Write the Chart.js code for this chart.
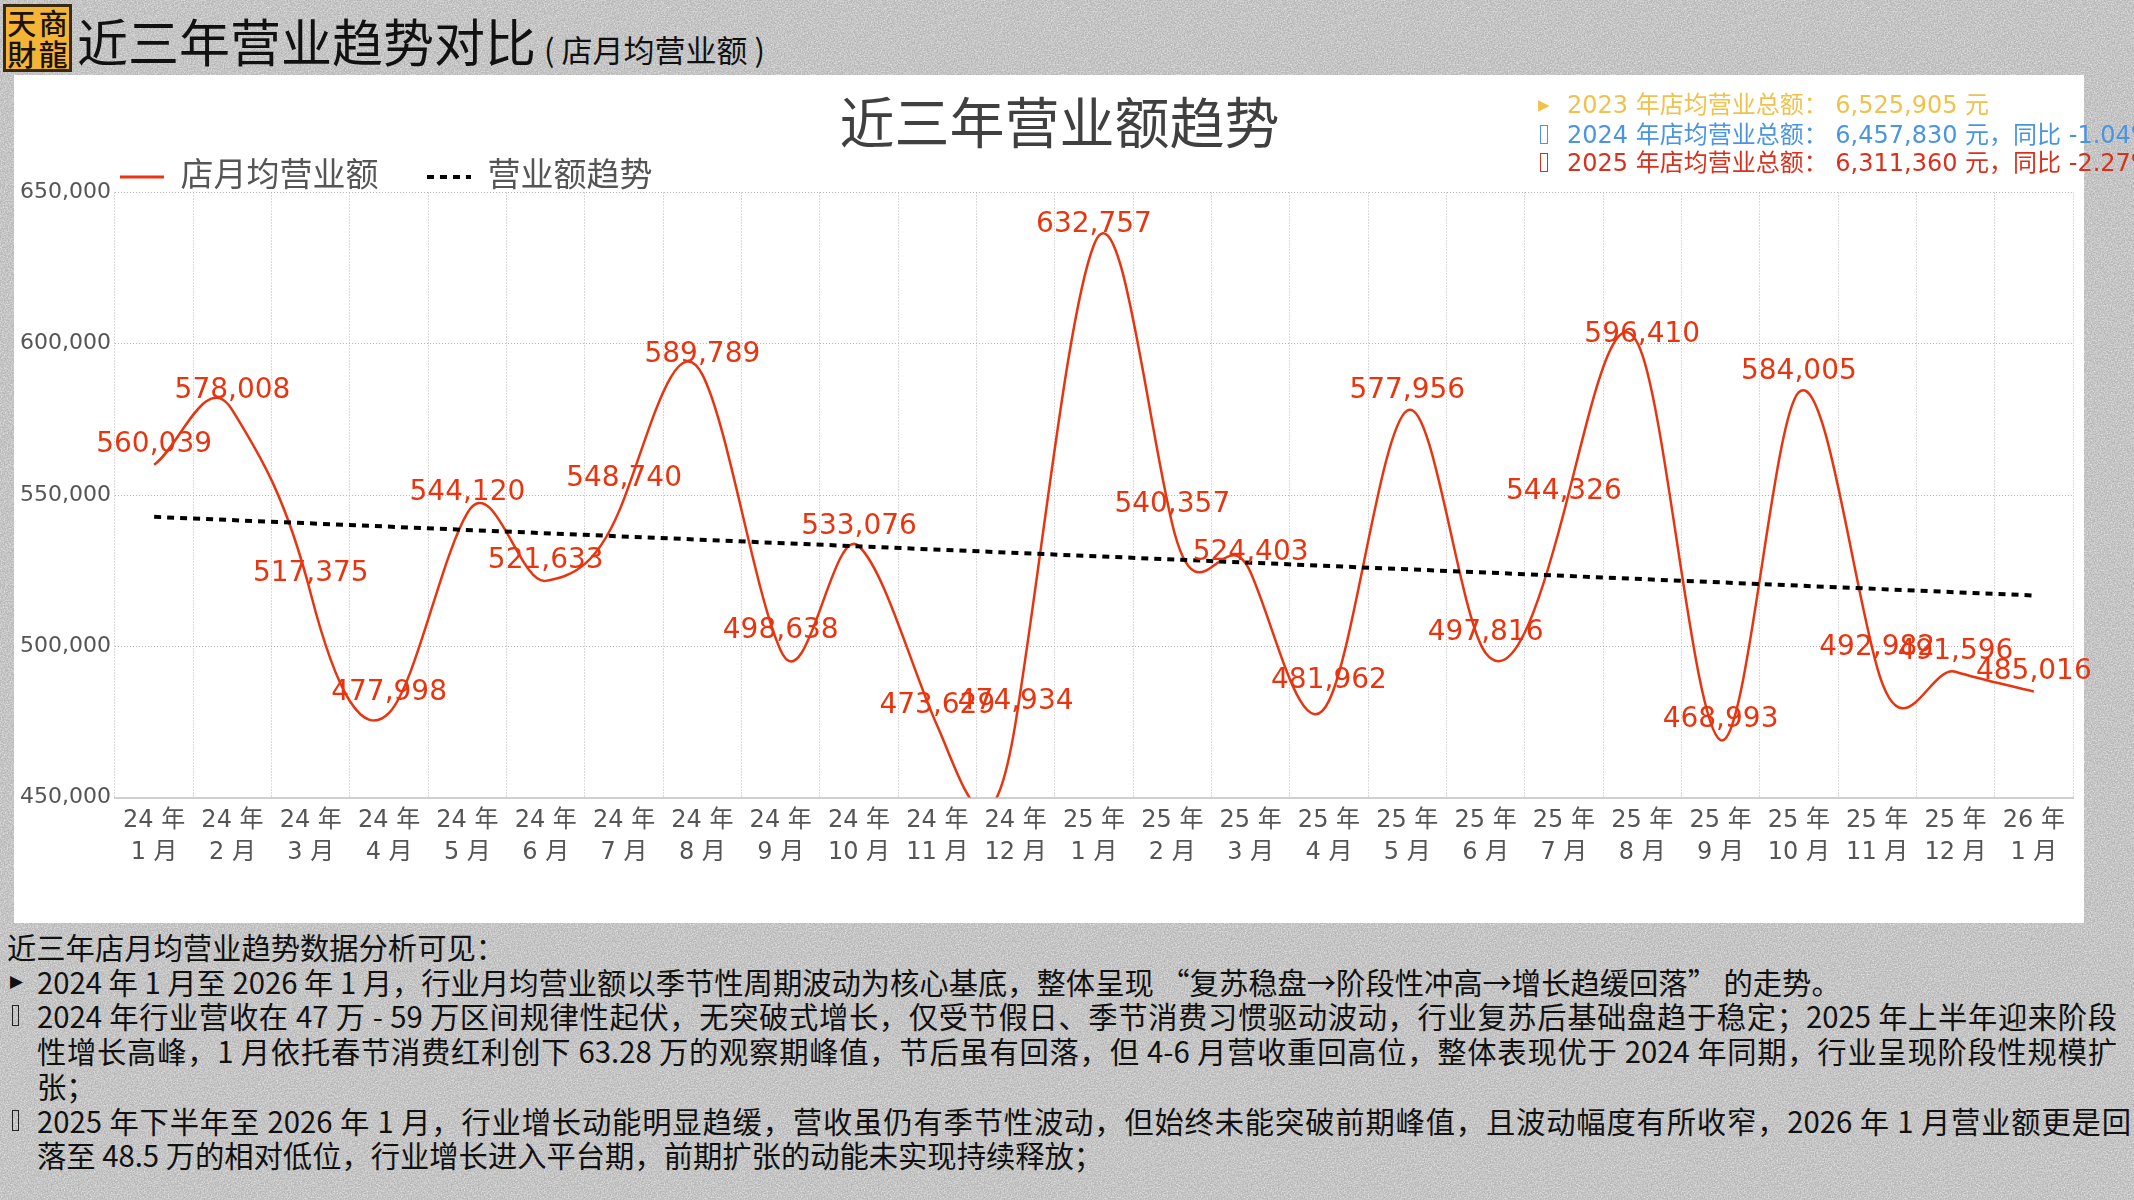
<!DOCTYPE html>
<html lang="zh">
<head>
<meta charset="utf-8">
<title>近三年营业趋势对比</title>
<script src="https://cdn.jsdelivr.net/npm/chart.js@4.4.1/dist/chart.umd.min.js"></script>
<style>
  html, body { margin: 0; padding: 0; }
  body {
    width: 2134px; height: 1200px; overflow: hidden; position: relative;
    background-color: #b6b6b6;
    background-image: url("data:image/svg+xml;utf8,<svg xmlns='http://www.w3.org/2000/svg' width='400' height='400'><filter id='n'><feTurbulence type='fractalNoise' baseFrequency='0.7' numOctaves='3' stitchTiles='stitch'/><feColorMatrix type='matrix' values='0 0 0 0 1  0 0 0 0 1  0 0 0 0 1  1.1 0 0 0 -0.35'/></filter><rect width='400' height='400' filter='url(%23n)'/></svg>");
    font-family: "Noto Sans CJK SC", sans-serif;
  }
  #logo {
    position: absolute; left: 3px; top: 4px; width: 69px; height: 68px; box-sizing: border-box;
    background: #f4b536; border: 3px solid #3a2912;
    display: grid; grid-template-columns: 1fr 1fr; grid-template-rows: 1fr 1fr;
    font-family: "Noto Sans CJK TC", sans-serif; font-size: 29px; line-height: 31px; color: #1b1208;
    text-align: center; font-weight: 500;
  }
  #title {
    position: absolute; left: 77px; top: 11px; white-space: nowrap;
    font-family: "Noto Sans CJK SC", sans-serif; color: #111;
  }
  #title .big { font-size: 51px; line-height: 58px; }
  #title .small { font-size: 31px; margin-left: 8px; }
  #panel {
    position: absolute; left: 14px; top: 75px; width: 2070px; height: 848px; background: #fff;
  }
  #chartBox { position: absolute; left: 0; top: 75px; width: 2134px; height: 848px; }
  .info {
    position: absolute; left: 1538px; white-space: nowrap; font-size: 24px; line-height: 30px;
    font-family: "DejaVu Sans", "Noto Sans CJK SC", sans-serif; z-index: 5;
  }
  .info .mk { display: inline-block; width: 29px; font-size: 15px; vertical-align: 3px; }
  .info .box { display: inline-block; width: 6px; height: 17px; border: 1.5px solid currentColor;
               margin-left: 2px; margin-right: 19px; vertical-align: -1px; }
  #notes {
    position: absolute; left: 7px; top: 929px; width: 2110px;
    font-size: 29.3px; line-height: 34.7px; color: #111;
  }
  #notes .ln { white-space: nowrap; }
  #notes .in { padding-left: 30px; position: relative; }
  #notes .j { text-align: justify; text-align-last: justify; white-space: normal; }
  #notes .b { position: absolute; left: 3px; top: 0; font-size: 17px; font-family: "DejaVu Sans", sans-serif; }
  #notes .bx { position: absolute; left: 5px; top: 7px; width: 5px; height: 19px; border: 1.5px solid #222; }
</style>
</head>
<body>
<div id="logo"><span>天</span><span>商</span><span>財</span><span>龍</span></div>
<div id="title"><span class="big">近三年营业趋势对比</span><span class="small">( 店月均营业额 )</span></div>

<div id="panel"></div>
<div id="chartBox"><canvas id="chart"></canvas></div>

<div class="info" style="top:90px;color:#f0c24b;"><span class="mk">▶</span>2023 年店均营业总额： 6,525,905 元</div>
<div class="info" style="top:120px;color:#4a95e2;"><span class="box"></span>2024 年店均营业总额： 6,457,830 元，同比 -1.04%</div>
<div class="info" style="top:148px;color:#d8301c;"><span class="box"></span>2025 年店均营业总额： 6,311,360 元，同比 -2.27%</div>

<div id="notes">
  <div class="ln">近三年店月均营业趋势数据分析可见：</div>
  <div class="ln in"><span class="b">▶</span>2024 年 1 月至 2026 年 1 月，行业月均营业额以季节性周期波动为核心基底，整体呈现 “复苏稳盘→阶段性冲高→增长趋缓回落” 的走势。</div>
  <div class="ln in j"><span class="bx"></span>2024 年行业营收在 47 万 - 59 万区间规律性起伏，无突破式增长，仅受节假日、季节消费习惯驱动波动，行业复苏后基础盘趋于稳定；2025 年上半年迎来阶段</div>
  <div class="ln in j">性增长高峰，1 月依托春节消费红利创下 63.28 万的观察期峰值，节后虽有回落，但 4-6 月营收重回高位，整体表现优于 2024 年同期，行业呈现阶段性规模扩</div>
  <div class="ln in">张；</div>
  <div class="ln in j" style="margin-right:-14px;"><span class="bx"></span>2025 年下半年至 2026 年 1 月，行业增长动能明显趋缓，营收虽仍有季节性波动，但始终未能突破前期峰值，且波动幅度有所收窄，2026 年 1 月营业额更是回</div>
  <div class="ln in">落至 48.5 万的相对低位，行业增长进入平台期，前期扩张的动能未实现持续释放；</div>
</div>

<script>
// ---------- data ----------
const yearLabels  = ['24 年','24 年','24 年','24 年','24 年','24 年','24 年','24 年','24 年','24 年','24 年','24 年',
                     '25 年','25 年','25 年','25 年','25 年','25 年','25 年','25 年','25 年','25 年','25 年','25 年','26 年'];
const monthLabels = ['1 月','2 月','3 月','4 月','5 月','6 月','7 月','8 月','9 月','10 月','11 月','12 月',
                     '1 月','2 月','3 月','4 月','5 月','6 月','7 月','8 月','9 月','10 月','11 月','12 月','1 月'];
const revenue = [560039, 578008, 517375, 477998, 544120, 521633, 548740, 589789, 498638, 533076, 473629, 474934,
                 632757, 540357, 524403, 481962, 577956, 497816, 544326, 596410, 468993, 584005, 492982, 491596, 485016];
const trendEnds = [542800, 516800];          // trend line value at first and last month
const yTicks = [450000, 500000, 550000, 600000, 650000];
const seriesNames = ['店月均营业额', '营业额趋势'];

const labels = yearLabels.map((y, i) => [y, monthLabels[i]]);
const trend = revenue.map((_, i) => i === 0 ? trendEnds[0] : (i === revenue.length - 1 ? trendEnds[1] : null));

const fmt = v => String(v).replace(/\B(?=(\d{3})+(?!\d))/g, ',');
const RED = '#e8340f';

// smooth curve (cubic Hermite through the points, strong tangents) for the revenue line
const splinePlugin = {
  id: 'splineCurve',
  beforeDatasetDraw(chart, args) {
    if (args.index !== 0) return;
    const line = args.meta.dataset;
    const pts = args.meta.data;
    line.updateControlPoints(chart.chartArea, 'x');
    const n = pts.length, k = 1.0;
    for (let i = 0; i < n; i++) {
      const p = pts[i];
      const prev = pts[Math.max(i - 1, 0)], next = pts[Math.min(i + 1, n - 1)];
      const h = (i < n - 1 ? pts[i + 1].x - p.x : p.x - pts[i - 1].x);
      const s = k * (next.y - prev.y);
      p.cp1x = p.x - h / 3; p.cp1y = p.y - s / 3;
      p.cp2x = p.x + h / 3; p.cp2y = p.y + s / 3;
    }
    line._path = undefined;
  }
};

// the chart title sits a little right of the canvas centre
const titleShiftPlugin = {
  id: 'titleShift',
  afterLayout(chart) {
    const t = chart.titleBlock;
    if (t) { t.left += 15; t.right += 15; }
  }
};

const valueLabelPlugin = {
  id: 'valueLabels',
  afterDatasetsDraw(chart) {
    const meta = chart.getDatasetMeta(0);
    const ctx = chart.ctx;
    ctx.save();
    ctx.font = "28px 'DejaVu Sans', 'Noto Sans CJK SC', sans-serif";
    ctx.fillStyle = RED;
    ctx.textAlign = 'center';
    ctx.textBaseline = 'middle';
    meta.data.forEach((pt, i) => {
      ctx.fillText(fmt(revenue[i]), pt.x, pt.y - 20);
    });
    ctx.restore();
  }
};

Chart.defaults.font.family = "'DejaVu Sans', 'Noto Sans CJK SC', sans-serif";
Chart.defaults.color = '#555';

new Chart(document.getElementById('chart'), {
  type: 'line',
  data: {
    labels: labels,
    datasets: [
      {
        label: seriesNames[0], data: revenue, borderColor: RED, backgroundColor: RED,
        borderWidth: 2.5, pointRadius: 0, pointHoverRadius: 0, tension: 0.4, order: 1
      },
      {
        label: seriesNames[1], data: trend, borderColor: '#000', backgroundColor: '#000',
        borderWidth: 4, borderDash: [7, 6], pointRadius: 0, pointHoverRadius: 0,
        tension: 0, spanGaps: true, order: 0
      }
    ]
  },
  options: {
    responsive: true, maintainAspectRatio: false, animation: false, devicePixelRatio: 1,
    events: [],
    layout: { padding: { left: 16, right: 61, top: 0, bottom: 47 } },
    plugins: {
      tooltip: { enabled: false },
      title: {
        display: true, text: '近三年营业额趋势', color: '#404040',
        font: { size: 55, weight: 'normal', family: "'Noto Sans CJK SC', sans-serif", lineHeight: 1.1 },
        padding: { top: 17, bottom: 3 }
      },
      legend: {
        display: true, position: 'top', align: 'start', fullSize: false, maxHeight: 37,
        labels: {
          usePointStyle: true, pointStyleWidth: 44, padding: 5, color: '#555',
          font: { size: 33 },
          sort: (a, b) => a.datasetIndex - b.datasetIndex,
          generateLabels(chart) {
            const items = Chart.defaults.plugins.legend.labels.generateLabels(chart);
            items.forEach(it => {
              const ds = chart.data.datasets[it.datasetIndex];
              it.pointStyle = 'line';
              it.strokeStyle = ds.borderColor;
              it.lineWidth = it.datasetIndex === 1 ? 4 : 3;
              it.lineDash = ds.borderDash || [];
              if (it.datasetIndex === 0) it.text = ds.label + '\u3000 ';
            });
            return items;
          }
        }
      }
    },
    scales: {
      x: {
        offset: true,
        grid: { offset: true, color: '#b4b4b4', lineWidth: 1, drawTicks: false },
        border: { display: true, color: '#cfcfcf', width: 2, dash: [1, 2] },
        ticks: { autoSkip: false, maxRotation: 0, minRotation: 0, padding: 8, color: '#555',
                 font: { size: 24, lineHeight: 1.3 } }
      },
      y: {
        min: yTicks[0], max: yTicks[yTicks.length - 1],
        grid: { color: '#b4b4b4', lineWidth: 1, drawTicks: false },
        border: { display: false, dash: [1, 2] },
        ticks: { stepSize: yTicks[1] - yTicks[0], padding: 4, color: '#555', font: { size: 22 },
                 callback: v => fmt(v) }
      }
    }
  },
  plugins: [splinePlugin, titleShiftPlugin, valueLabelPlugin]
});
</script>
</body>
</html>
